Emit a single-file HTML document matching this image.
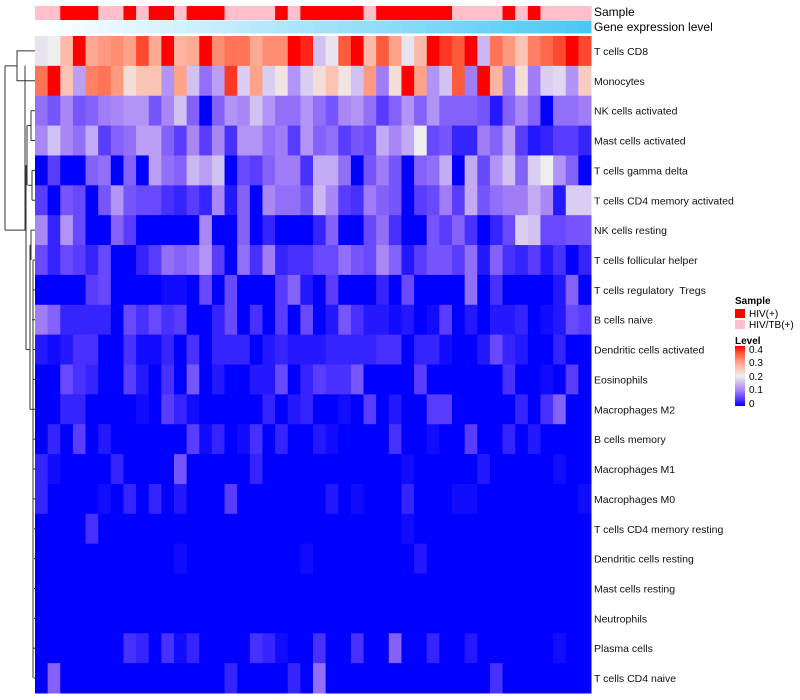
<!DOCTYPE html>
<html><head><meta charset="utf-8"><style>
body{margin:0;background:#fff;width:800px;height:700px;overflow:hidden}
svg{display:block;font-family:"Liberation Sans",sans-serif}
#labels text{white-space:pre}
</style></head><body>
<svg id="chart" width="800" height="700">
<g id="dendro" stroke="#333" fill="none" stroke-width="1"></g>
<g id="cells"></g>
<g id="annot"></g>
<g id="labels" font-size="10.5" fill="#111" xml:space="preserve"></g>
<text x="594" y="16" font-size="12">Sample</text>
<text x="594" y="31" font-size="12">Gene expression level</text>
<g font-size="10">
<text x="735" y="304" font-weight="bold">Sample</text>
<rect x="735" y="309" width="10" height="9" fill="#ff0000"/>
<text x="749" y="317">HIV(+)</text>
<rect x="735" y="320" width="10" height="9" fill="#ffc0cb"/>
<text x="749" y="328">HIV/TB(+)</text>
<text x="735" y="344" font-weight="bold">Level</text>
<defs><linearGradient id="lg" x1="0" y1="1" x2="0" y2="0">
<stop offset="0" stop-color="#0000ff"/><stop offset="0.125" stop-color="#5a3cff"/><stop offset="0.25" stop-color="#a07cf7"/><stop offset="0.375" stop-color="#cbb7f3"/><stop offset="0.5" stop-color="#eeeeee"/><stop offset="0.625" stop-color="#fbc3b4"/><stop offset="0.75" stop-color="#ff9a80"/><stop offset="0.875" stop-color="#ff5a3c"/><stop offset="1" stop-color="#ff0000"/></linearGradient></defs>
<rect x="735" y="346" width="10" height="60" fill="url(#lg)"/>
<text x="749" y="353">0.4</text>
<text x="749" y="366">0.3</text>
<text x="749" y="380">0.2</text>
<text x="749" y="393">0.1</text>
<text x="749" y="407">0</text>
</g>
</svg>
<script>
const rowNames=["T cells CD8","Monocytes","NK cells activated","Mast cells activated","T cells gamma delta","T cells CD4 memory activated","NK cells resting","T cells follicular helper","T cells regulatory  Tregs","B cells naive","Dendritic cells activated","Eosinophils","Macrophages M2","B cells memory","Macrophages M1","Macrophages M0","T cells CD4 memory resting","Dendritic cells resting","Mast cells resting","Neutrophils","Plasma cells","T cells CD4 naive"];
const sampleGroups=[0,0,1,1,1,0,0,1,0,1,1,0,1,1,1,0,0,0,0,1,0,1,1,1,1,1,0,1,1,1,1,1,1,0,0,0,0,1,0,1,0,0,0,0];
const rowCD8=[.19,.2,.26,.4,.28,.3,.31,.29,.36,.28,.4,.27,.28,.4,.31,.33,.33,.28,.31,.31,.4,.38,.16,.19,.35,.4,.26,.35,.29,.19,.26,.4,.37,.35,.4,.15,.33,.3,.25,.32,.34,.36,.4,.36];
const rowMono=[.33,.4,.25,.13,.32,.33,.3,.22,.25,.25,.12,.29,.16,.09,.13,.37,.17,.29,.17,.21,.12,.17,.22,.25,.21,.16,.3,.1,.22,.4,.29,.12,.16,.35,.1,.4,.27,.1,.22,.1,.17,.18,.12,.24];
const rowNKact=[.09,.07,.11,.07,.08,.1,.11,.12,.12,.07,.11,.16,.08,0,.08,.12,.11,.16,.12,.09,.09,.12,.09,.07,.11,.12,.09,.05,.08,.12,.08,.12,.08,.08,.08,.07,.02,.08,.11,.08,0,.09,.09,.1];
const rowMastAct=[.11,.16,.11,.09,.14,.05,.08,.09,.13,.13,.08,.05,.11,.05,.11,.04,.12,.12,.09,.1,.05,.12,.08,.09,.05,.07,.06,.14,.11,.14,.2,.06,.07,.03,.03,.1,.08,.13,.05,.02,.03,.05,.05,.03];
const rowGD=[0,.05,0,0,.08,.09,0,.08,0,.13,.09,.08,.15,.13,.16,0,.06,.05,.08,.1,.1,.04,.14,.14,.09,0,.07,.1,.07,0,.08,.09,.14,0,.14,.06,.12,.16,.08,.17,.2,.12,.08,0];
const rowCD4MA=[.05,0,.07,.06,0,.07,.12,.07,.06,.06,.04,.03,.05,.03,.11,.02,.08,0,.11,.09,.09,.07,.15,.11,.05,.04,.1,.08,.07,0,.05,.06,.1,.05,.14,.07,.09,.1,.1,.14,.11,.02,.17,.17];
const rowNKrest=[.11,.03,.12,.06,0,0,.08,.05,0,0,0,0,0,.11,0,0,.08,0,.03,0,0,0,.03,.08,0,0,.06,.09,.04,0,0,.07,.05,.08,.04,0,.03,.06,.17,.16,.06,.06,.07,.07];
const rowTFH=[.06,.03,.06,.05,.03,.06,0,0,.03,.05,.09,.08,.09,.12,.05,0,.09,.04,.1,.03,.04,.04,.06,.06,.09,.07,.06,.11,.08,.02,.05,.07,.07,.05,.09,.02,.08,.04,.03,.05,.02,.04,0,.03];
const rowTreg=[0,0,0,0,.05,.06,0,0,0,0,.01,.01,0,.06,0,.06,0,0,0,.05,.08,.02,0,.05,0,0,0,.03,0,.06,0,0,0,0,.09,0,.04,0,0,0,0,.02,.08,0];
const rowBnaive=[.1,.08,.03,.03,.03,.03,0,.06,.04,.06,.04,.05,0,0,.03,.06,0,.04,0,.05,0,.06,0,.02,.07,.04,.02,.02,.01,.02,0,.01,.05,0,.02,0,.02,.02,.03,0,.01,.02,.06,.05];
const rowDCact=[.02,.01,.02,.04,.04,0,0,.04,.01,.01,.03,0,.04,0,.03,.03,.03,0,.02,.03,.02,.02,.02,.03,.03,.03,.03,.04,.04,0,.03,.03,.01,0,0,.02,.06,.03,.02,0,0,.03,0,0];
const rowEos=[0,0,.06,.04,.03,0,0,.05,.02,0,.04,0,.07,0,.02,0,0,.02,.02,.06,0,.03,.05,.04,.04,.07,0,0,0,0,.05,0,0,0,0,0,0,.04,0,0,.01,0,.05,0];
const rowM2=[0,0,.03,.03,0,0,0,0,.01,0,.05,.03,.01,0,0,0,0,0,.03,0,.02,.03,0,0,.01,0,.05,0,.02,0,0,.05,.05,0,0,0,0,0,.03,0,.04,.08,0,0];
const rowBmem=[0,.03,0,.05,0,.02,0,0,0,0,0,0,.05,.01,.03,0,.01,.04,0,.03,0,0,.02,.01,0,0,0,0,.04,0,0,.01,0,0,.05,0,0,.03,0,.02,0,0,0,0];
const rowM1=[.03,.01,0,0,0,0,.03,0,0,0,0,.07,0,0,0,0,0,.03,0,0,0,0,0,0,0,0,0,0,0,.01,0,0,0,0,0,.02,0,0,0,0,0,.01,0,0];
const rowM0=[.03,0,0,0,0,.01,0,.03,0,.03,0,.02,0,0,0,.05,0,0,0,0,0,0,0,.02,0,.01,0,0,0,.03,0,0,0,.01,.01,0,0,0,0,0,0,0,0,.01];
const rowCD4MR=[0,0,0,0,.04,0,0,0,0,0,0,0,0,0,0,0,0,0,0,0,0,0,0,0,0,0,0,0,0,.01,0,0,0,0,0,0,0,0,0,0,0,0,0,0];
const rowDCrest=[0,0,0,0,0,0,0,0,0,0,0,.01,0,0,0,0,0,0,0,0,0,.01,0,0,0,0,0,0,0,0,.02,0,0,0,0,0,0,0,0,0,0,0,0,0];
const rowMastRest=[0,0,0,0,0,0,0,0,0,0,0,0,0,0,0,0,0,0,0,0,0,0,0,0,0,0,0,0,0,0,0,0,0,0,0,0,0,0,0,0,0,0,0,0];
const rowNeut=[0,0,0,0,0,0,0,0,0,0,0,0,0,0,0,0,0,0,0,0,0,0,0,0,0,0,0,0,0,0,0,0,0,0,0,0,0,0,0,0,0,0,0,0];
const rowPlasma=[0,0,0,0,0,0,0,.04,.03,0,.04,.01,.03,0,0,0,0,.04,.03,.01,0,0,.04,0,0,.04,0,0,.08,0,0,.03,0,0,.02,0,0,0,0,0,0,.01,0,0];
const rowCD4N=[0,.08,0,0,0,0,0,0,0,0,0,0,0,0,0,.03,0,0,0,0,.03,0,.09,0,0,0,0,0,0,0,0,0,0,0,0,0,.04,0,0,0,0,0,0,0];
const matrix=[rowCD8,rowMono,rowNKact,rowMastAct,rowGD,rowCD4MA,rowNKrest,rowTFH,rowTreg,rowBnaive,rowDCact,rowEos,rowM2,rowBmem,rowM1,rowM0,rowCD4MR,rowDCrest,rowMastRest,rowNeut,rowPlasma,rowCD4N];

const X0=35,X1=591,Y0=36,Y1=693;
const nC=sampleGroups.length,nR=rowNames.length;
const cw=(X1-X0)/nC,rh=(Y1-Y0)/nR;
const xPos=i=>X0+i*cw, yPos=r=>Y0+r*rh;
const stops=[[0,[0,0,255]],[.05,[90,60,255]],[.1,[160,124,247]],[.15,[203,183,243]],[.2,[238,238,238]],[.25,[251,195,180]],[.3,[255,154,128]],[.35,[255,90,60]],[.4,[255,0,0]]];
function color(v){v=Math.max(0,Math.min(.4,v));for(let k=1;k<stops.length;k++){if(v<=stops[k][0]){const a=stops[k-1],b=stops[k],t=(v-a[0])/(b[0]-a[0]);const c=a[1].map((x,j)=>Math.round(x+(b[1][j]-x)*t));return `rgb(${c})`;}}return 'rgb(255,0,0)';}
const NS='http://www.w3.org/2000/svg';
function mk(tag,attrs,parent){const e=document.createElementNS(NS,tag);for(const k in attrs)e.setAttribute(k,attrs[k]);parent.appendChild(e);return e;}
const cells=document.getElementById('cells');
matrix.forEach((row,r)=>row.forEach((v,i)=>{
  const e=mk('rect',{x:xPos(i),y:yPos(r),width:cw+0.5,height:rh+0.5,fill:color(v)},cells);
  
  
}));
const annot=document.getElementById('annot');
sampleGroups.forEach((g,i)=>{
  const e=mk('rect',{x:xPos(i),y:6,width:cw+0.5,height:14,fill:g?'#ff0000':'#ffc0cb'},annot);
  
  
  const t=i/(nC-1);
  const c=[255+(76-255)*t,255+(200-255)*t,255+(245-255)*t].map(Math.round);
  const f=mk('rect',{x:xPos(i),y:20.5,width:cw+0.5,height:13,fill:`rgb(${c})`},annot);
  
  
});
const labels=document.getElementById('labels');
rowNames.forEach((n,r)=>{
  const t=mk('text',{x:594,y:yPos(r)+rh/2+4},labels);
  t.textContent=n;
  
  
});
const d=document.getElementById('dendro');
const cy=r=>yPos(r)+rh/2;
function seg(p){const e=mk('path',{d:p},d);}
seg(`M35 ${cy(0)} H17 V${cy(1)} H35`);
const leafX=[0,0,31,31,32,32,31,33,33,32,33,33,33,33,33,33,34,34,34,34,33,34];
for(let r=2;r<nR;r++) seg(`M35 ${cy(r)} H${leafX[r]}`);
seg(`M31 ${cy(2)} V${cy(3)}`);seg(`M27 ${(cy(2)+cy(3))/2} H31`);
seg(`M32 ${cy(4)} V${cy(5)}`);seg(`M28 ${(cy(4)+cy(5))/2} H32`);
seg(`M27 ${(cy(2)+cy(3))/2} V${(cy(4)+cy(5))/2}`);seg(`M26 ${cy(4)-5} H27`);
seg(`M31 ${cy(6)} V${cy(7)}`);
seg(`M33 ${cy(7)} V${cy(21)}`);
seg(`M30 ${cy(6)+15} H31`);seg(`M30 ${cy(6)+15} V${cy(12)}`);seg(`M30 ${cy(12)} H33`);
seg(`M26 ${cy(4)-5} V${cy(10)}`);seg(`M26 ${cy(10)} H30`);
seg(`M25 ${cy(1)-15} V${cy(6)}`);seg(`M25 ${cy(6)} H26`);
seg(`M5 ${(cy(0)+cy(1))/2} H17`);seg(`M5 ${(cy(0)+cy(1))/2} V${cy(6)}`);seg(`M5 ${cy(6)} H25`);
</script>
</body></html>
